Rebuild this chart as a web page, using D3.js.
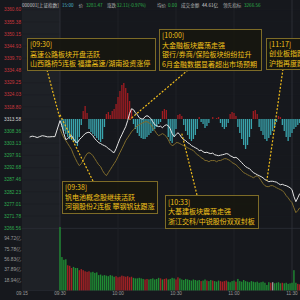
<!DOCTYPE html>
<html lang="zh">
<head>
<meta charset="UTF-8">
<title>上证指数 分时</title>
<script src="https://cdn.jsdelivr.net/npm/d3@7/dist/d3.min.js"></script>
<style>
    body{margin:0;background:#16181d;}
    svg{display:block;}
    .axis text{font-family:"Liberation Sans",Arial,sans-serif;font-size:4.7px;}
    .head text{font-family:"Noto Sans CJK SC",sans-serif;font-size:4.6px;}
    .note text{font-family:"Noto Sans CJK SC",sans-serif;font-size:7px;fill:#f2c21a;}
</style>
</head>
<body>
<svg id="main" width="300" height="300"></svg>
<script>
// ---- data ----
const preclose = 3313.58;
const priceTicks = ["3360.60","3355.38","3350.15","3344.93","3339.70","3334.48","3329.25","3324.03","3318.80",
    "3313.58","3308.36","3303.13","3297.91","3292.68","3287.46","3282.23","3277.01","3271.78","3266.56"];
const volTicks = ["94.72亿","75.78亿","56.83亿","37.89亿","18.94亿"];
const timeTicks = ["09:15","09:30","10:00","10:30","11:00","11:30"];

const headerText = ["000001[上证指数]","15:00","价","3281.47","涨跌","-32.11(-0.97%)","均价","0.00","成交金额","44.61亿","领先指标","3266.56"];
const headerKind = ["name","time","lab","down","lab","down","lab","down","lab","val","lab","down"];

// 集合竞价
const preTimes = ["09:18","09:19","09:20","09:21","09:22","09:23","09:24","09:25","09:26","09:27","09:28"];
const preWhite = [3305.8,3306.2,3306.0,3305.6,3306.0,3306.4,3306.2,3305.9,3305.9,3306.0,3306.0];

// one value per minute from 09:30 (index 120 = 11:30, then 13:01...)
const whiteMain = [3312.9,3310.7,3307.3,3304.7,3305.1,3306.0,3306.4,3305.1,3303.8,3303.4,
    3304.7,3305.5,3306.4,3307.3,3307.7,3307.9,3307.3,3306.4,3305.1,3304.3,
    3303.4,3303.0,3302.5,3302.1,3301.7,3300.8,3300.4,3299.5,3299.1,3300.8,
    3303.0,3305.1,3306.8,3308.6,3310.3,3312.9,3315.9,3318.0,3317.6,3316.3,
    3315.4,3314.1,3313.7,3313.5,3314.6,3315.0,3314.6,3313.7,3312.4,3311.1,
    3310.7,3310.3,3310.5,3309.8,3310.7,3311.1,3310.7,3309.4,3307.3,3306.0,
    3306.8,3307.7,3306.8,3305.5,3304.7,3304.3,3303.4,3303.0,3302.1,3301.7,
    3301.2,3300.8,3300.0,3300.2,3299.5,3299.1,3299.3,3298.9,3298.7,3298.9,
    3298.2,3298.0,3297.8,3298.0,3298.2,3298.4,3298.7,3298.5,3297.8,3297.4,
    3296.9,3297.1,3296.5,3295.7,3294.8,3293.9,3293.1,3292.6,3292.2,3291.4,
    3290.5,3290.1,3289.6,3289.2,3288.8,3288.3,3287.5,3287.1,3286.6,3286.8,
    3286.8,3286.6,3286.4,3285.8,3285.3,3285.5,3285.1,3284.9,3284.5,3284.0,
    3283.2,3280.2,3278.0,3279.7,3281.5];
const goldMain = [3309.4,3307.3,3305.5,3304.3,3303.0,3301.7,3300.4,3298.2,3296.5,3294.8,
    3293.5,3294.4,3295.7,3297.4,3298.7,3299.1,3298.7,3297.8,3296.5,3295.2,
    3293.9,3293.1,3291.4,3290.1,3289.2,3290.5,3291.8,3293.1,3294.4,3295.7,
    3297.4,3299.1,3300.8,3302.5,3304.3,3305.5,3306.8,3308.1,3309.0,3309.8,
    3310.7,3311.1,3311.6,3312.0,3312.4,3312.4,3312.0,3311.1,3309.8,3308.6,
    3307.3,3306.4,3306.8,3307.3,3306.8,3306.0,3304.7,3303.0,3302.1,3302.5,
    3303.4,3303.4,3303.0,3302.5,3302.1,3301.7,3301.2,3300.8,3300.4,3300.0,
    3299.1,3298.2,3297.8,3296.9,3296.5,3295.7,3295.7,3295.2,3295.7,3295.7,
    3295.7,3295.2,3295.7,3295.7,3296.1,3296.5,3296.5,3296.1,3295.7,3294.8,
    3294.4,3293.9,3293.1,3292.2,3291.4,3290.5,3290.1,3289.6,3289.2,3288.8,
    3288.3,3288.8,3289.2,3288.3,3287.1,3285.8,3284.9,3284.5,3284.5,3284.9,
    3284.9,3284.5,3284.0,3283.6,3283.2,3282.8,3281.9,3280.6,3279.7,3278.5,
    3277.6,3275.4,3273.3,3274.2,3275.4];
// 成交额 (亿)
const volMain = [116,61,56,57,46,45,41,43,41,41,
    37,39,37,35,34,35,33,34,32,33,
    28,29,27,28,27,26,28,27,25,26,
    24,25,27,26,25,26,24,25,23,22,
    22,23,22,21,20,21,20,21,22,20,
    21,23,22,20,21,22,20,21,23,22,
    20,24,22,20,19,21,20,19,18,20,
    19,18,19,17,18,20,18,17,19,18,
    17,16,18,17,16,17,18,16,15,17,
    18,16,21,17,16,19,17,16,15,17,
    16,15,16,14,15,16,14,10,15,14,
    15,13,14,15,13,14,13,14,12,13,
    14,37,14,12,11];
// 红绿柱 (up = red, down = cyan)
const breadth = [0,-8,-12,-15,-18,-20,-21,-22,-24,-27,
    -18,-6,8,13,6,-10,-13,-15,-17,-19,
    -21,-23,-20,-8,5,7,4,8,10,15,
    22,28,34,36,31,26,18,10,-5,-10,
    -14,-17,-19,-20,-20,-18,-16,-14,-12,-10,
    -8,-5,-3,8,10,9,-18,-22,-24,-18,
    -10,4,5,3,-6,-12,-16,-20,-22,-20,
    -16,-10,2,-3,-5,-9,-7,-4,0,2,
    0,1,2,-4,-8,-10,-8,-4,5,7,
    6,3,-8,-14,-20,-26,-30,-26,-18,-10,
    8,9,5,-8,-12,-16,-20,-22,-19,-16,
    -12,-8,-3,3,2,-6,-12,-18,-22,-18,
    -14,-10,-8,-6,-4];

// annotations: time/price of the point they point to
const noteTimes = ["09:30","10:06","11:17","09:30","10:33"];
const notePrices = [3313.7,3313.3,3287.1,3315.4,3307.3];
const noteLines = [
    ["[09:30]","高速公路板块开盘活跃","山西路桥5连板 福建高速/湖南投资涨停"],
    ["[10:00]","大金融板块震荡走强","银行/券商/保险板块纷纷拉升","6月金融数据显著超出市场预期"],
    ["[11:17]","创业板指跌幅扩大","沪指再度跌破3300点"],
    ["[09:38]","钒电池概念股继续活跃","河钢股份2连板 攀钢钒钛跟涨"],
    ["[10:33]","大基建板块震荡走强","浙江交科/中锐股份双双封板"]
];

// ---- layout ----
const boxes = [
    {x:27, y:38, w:128, h:32, fx:47, fy:70},
    {x:159, y:29, w:102, h:41, fx:188, fy:70},
    {x:266, y:38, w:60, h:31, fx:283, fy:69},
    {x:62, y:181, w:95, h:32, fx:93, fy:181},
    {x:165, y:195, w:93, h:33, fx:197, fy:195}
];

const toMin = s => { const [h, m] = s.split(":").map(Number); return h * 60 + m; };
const mainTimes = whiteMain.map((_, i) => i <= 120 ? 570 + i : 780 + i - 120);

const x = d3.scaleLinear().domain([555, 570, 690, 780, 900]).range([22, 60, 292, 292, 524]);
const y = d3.scaleLinear().domain([3266.56, 3360.60]).range([228.3, 9.7]);
const yVol = d3.scaleLinear().domain([0, 113.66]).range([290.4, 228.3]);
const yPre = y(preclose);
const yBar = d3.scaleLinear().domain([-50, 50]).range([yPre + 50, yPre - 50]);

const svg = d3.select("#main");
svg.append("defs").append("clipPath").attr("id", "plot")
    .append("rect").attr("x", 22).attr("y", 0).attr("width", 278).attr("height", 300);

// background + pre-market shade
svg.append("rect").attr("width", 300).attr("height", 300).attr("fill", "#16181d");
svg.append("rect").attr("x", x(555)).attr("y", 0)
    .attr("width", x(570) - x(555)).attr("height", yVol(0))
    .attr("fill", "#1e2126");

const grid = svg.append("g");
grid.selectAll(".h").data(priceTicks).join("line")
    .attr("x1", 22).attr("x2", 300)
    .attr("y1", d => y(+d)).attr("y2", d => y(+d))
    .attr("stroke", "#1b1d22").attr("stroke-width", 0.5);
grid.append("line").attr("x1", 22).attr("x2", 300).attr("y1", y(3266.56)).attr("y2", y(3266.56))
    .attr("stroke", "#2c3037").attr("stroke-width", 0.8);
grid.append("line").attr("x1", 22).attr("x2", 300).attr("y1", yVol(0)).attr("y2", yVol(0))
    .attr("stroke", "#2c3037").attr("stroke-width", 0.6);
grid.selectAll(".v").data(timeTicks.slice(1)).join("line")
    .attr("x1", d => x(toMin(d))).attr("x2", d => x(toMin(d)))
    .attr("y1", 0).attr("y2", yVol(0))
    .attr("stroke", d => (d === "09:30" || d === "11:30") ? "#30343b" : "#21242a")
    .attr("stroke-width", 0.8);

const plot = svg.append("g").attr("clip-path", "url(#plot)");

// red / cyan bars around previous close
plot.append("g").selectAll("rect").data(breadth).join("rect")
    .attr("x", (d, i) => x(mainTimes[i]) - 0.65)
    .attr("width", 1.3)
    .attr("y", d => Math.min(yBar(d), yPre))
    .attr("height", d => Math.abs(yBar(d) - yPre))
    .attr("fill", d => d >= 0 ? "#a01c21" : "#3aa5ae");

// volume bars, coloured by the minute's move
plot.append("g").selectAll("rect").data(volMain).join("rect")
    .attr("x", (d, i) => x(mainTimes[i]) - 0.7)
    .attr("width", 1.4)
    .attr("y", d => yVol(d))
    .attr("height", d => yVol(0) - yVol(d))
    .attr("fill", (d, i) => {
        const prev = i === 0 ? preclose : whiteMain[i - 1];
        if (whiteMain[i] > prev) return "#a32225";
        if (whiteMain[i] < prev) return "#1f8a33";
        return "#9a9a9a";
    });

const line = d3.line().x(d => x(d[0])).y(d => y(d[1]));
const goldPts = goldMain.map((v, i) => [mainTimes[i], v]);
const whitePts = preTimes.map((t, i) => [toMin(t), preWhite[i]])
    .concat(whiteMain.map((v, i) => [mainTimes[i], v]));

plot.append("path").datum(goldPts).attr("d", line)
    .attr("fill", "none").attr("stroke", "#806c2c").attr("stroke-width", 1);
plot.append("path").datum(whitePts).attr("d", line)
    .attr("fill", "none").attr("stroke", "#e4e4e4").attr("stroke-width", 1);

// annotations
const notes = svg.append("g").attr("class", "note");
boxes.forEach((b, k) => {
    notes.append("line")
        .attr("x1", b.fx).attr("y1", b.fy)
        .attr("x2", x(toMin(noteTimes[k]))).attr("y2", y(notePrices[k]))
        .attr("stroke", "#f0bc1c").attr("stroke-width", 1.2)
        .attr("stroke-dasharray", "2,1.6");
});
boxes.forEach((b, k) => {
    const g = notes.append("g");
    g.append("rect").attr("x", b.x + 0.5).attr("y", b.y + 0.5)
        .attr("width", b.w).attr("height", b.h)
        .attr("fill", "#17170f").attr("fill-opacity", 0.92)
        .attr("stroke", "#7d6b27").attr("stroke-width", 1);
    const n = noteLines[k].length;
    const top = b.y + (b.h - n * 9.6) / 2;
    g.selectAll("text").data(noteLines[k]).join("text")
        .attr("x", b.x + 3)
        .attr("y", (d, i) => top + 7.6 + i * 9.6)
        .text(d => d);
});

// axis labels
const axis = svg.append("g").attr("class", "axis");
axis.selectAll(".p").data(priceTicks).join("text")
    .attr("x", 21).attr("y", d => y(+d) + 1.7)
    .attr("text-anchor", "end")
    .attr("fill", d => +d > preclose ? "#c8363c" : (+d < preclose ? "#2fa84f" : "#cfcfcf"))
    .text(d => d);
axis.selectAll(".vl").data(volTicks).join("text")
    .attr("x", 21).attr("y", d => yVol(parseFloat(d)) + 1.7)
    .attr("text-anchor", "end").attr("fill", "#9a9a9a")
    .text(d => d);
axis.selectAll(".t").data(timeTicks).join("text")
    .attr("x", d => x(toMin(d))).attr("y", 294.5)
    .attr("text-anchor", "middle").attr("fill", "#9a9a9a")
    .text(d => d);

// header line
const headX = [22, 62, 78.5, 86, 107, 115, 157, 168, 181, 202, 223, 244];
const headColor = {name:"#c4c4c4", time:"#4db6c9", lab:"#b0b0b0", down:"#2db34a", val:"#d2d2d2"};
svg.append("g").attr("class", "head").selectAll("text").data(headerText).join("text")
    .attr("x", (d, i) => headX[i]).attr("y", 6.8)
    .attr("fill", (d, i) => headColor[headerKind[i]])
    .text(d => d);
</script>
</body>
</html>
